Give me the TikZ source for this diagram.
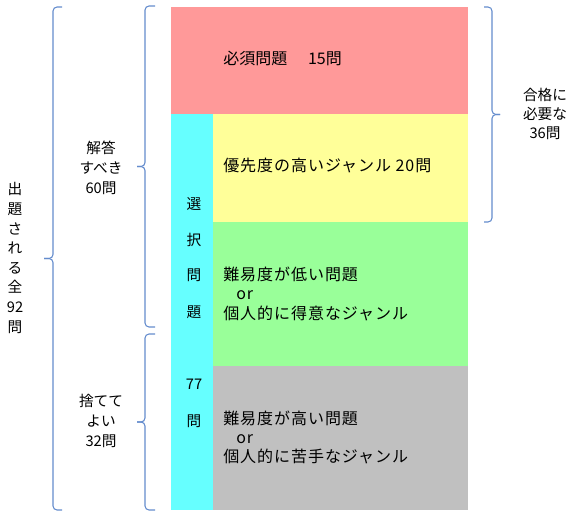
\documentclass[tikz,border=0pt]{standalone}
\usepackage{fontspec}
\setmainfont{Noto Sans CJK JP}
\newfontfamily\bodyfont[LetterSpace=6]{Noto Sans CJK JP}
\usetikzlibrary{calc}

\definecolor{hissucol}{RGB}{255,153,153}
\definecolor{yusencol}{RGB}{255,255,153}
\definecolor{teicol}{RGB}{153,255,153}
\definecolor{koucol}{RGB}{192,192,192}
\definecolor{sentakucol}{RGB}{102,255,255}
\definecolor{bracecol}{RGB}{100,140,205}

\tikzset{
  bracket/.style={draw=bracecol, line width=0.8pt, rounded corners=3pt},
  boxtext/.style={anchor=west, inner sep=0pt,
    font=\bodyfont\fontsize{12}{14}\selectfont,
    text height=0.8em, text depth=0.2em},
  sidetext/.style={align=center, inner sep=0pt, font=\fontsize{11}{15}\selectfont},
  coltext/.style={inner sep=0pt, font=\fontsize{11}{13}\selectfont,
    text height=0.8em, text depth=0.2em}
}

\begin{document}
\begin{tikzpicture}[x=0.75pt, y=-0.75pt]
  \useasboundingbox (0,0) rectangle (577,516);
  \begin{scope}
    \fill [hissucol] (171,7) rectangle (468,114);
    \fill [sentakucol] (171,114) rectangle (213,510);
    \fill [yusencol] (213,114) rectangle (468,222);
    \fill [teicol] (213,222) rectangle (468,366);
    \fill [koucol] (213,366) rectangle (468,510);

    \node [boxtext, font=\fontsize{12}{14}\selectfont] (hissu) at (223,61) {必須問題\hspace{1.3em}15問};
    \node [boxtext] (yusen) at (223,168) {優先度の高いジャンル 20問};

    \node [boxtext] (tei1) at (223,276) {難易度が低い問題};
    \node [boxtext] (teior) at (236,295) {or};
    \node [boxtext] (tei2) at (223,315) {個人的に得意なジャンル};

    \node [boxtext] (kou1) at (223,420) {難易度が高い問題};
    \node [boxtext] (kouor) at (236,439) {or};
    \node [boxtext] (kou2) at (223,458) {個人的に苦手なジャンル};

    \node [coltext] (s1) at (194,206) {選};
    \node [coltext] (s2) at (194,242) {択};
    \node [coltext] (s3) at (194,277) {問};
    \node [coltext] (s4) at (194,313) {題};
    \node [coltext] (s5) at (194,385) {77};
    \node [coltext] (s6) at (194,422) {問};
  \end{scope}

  \begin{scope}
    \node [sidetext, font=\fontsize{11}{14.7}\selectfont] (zen) at (15,258)
      {出\\題\\さ\\れ\\る\\全\\92\\問};
    \node [sidetext] (kaitou) at (101,168) {解答\\すべき\\60問};
    \node [sidetext] (suteru) at (101,421) {捨てて\\よい\\32問};
    \node [sidetext, font=\fontsize{11}{14.25}\selectfont] (goukaku) at (545,114)
      {合格に\\必要な\\36問};

    \coordinate (zenTop) at (62,7);
    \coordinate (zenBot) at (62,510);
    \coordinate (kaitouTop) at (155,6);
    \coordinate (kaitouBot) at (155,327);
    \coordinate (suteruTop) at (155,334);
    \coordinate (suteruBot) at (155,510);
    \coordinate (goukakuTop) at (484,7);
    \coordinate (goukakuBot) at (484,222);

    \draw [bracket] (zenTop) -- ++(-9,0) |- ($(zenTop)!.5!(zenBot)+(-18,0)$);
    \draw [bracket] (zenBot) -- ++(-9,0) |- ($(zenTop)!.5!(zenBot)+(-18,0)$);
    \draw [bracket] (kaitouTop) -- ++(-10,0) |- ($(kaitouTop)!.5!(kaitouBot)+(-18,0)$);
    \draw [bracket] (kaitouBot) -- ++(-10,0) |- ($(kaitouTop)!.5!(kaitouBot)+(-18,0)$);
    \draw [bracket] (suteruTop) -- ++(-10,0) |- ($(suteruTop)!.5!(suteruBot)+(-18,0)$);
    \draw [bracket] (suteruBot) -- ++(-10,0) |- ($(suteruTop)!.5!(suteruBot)+(-18,0)$);
    \draw [bracket] (goukakuTop) -- ++(8,0) |- ($(goukakuTop)!.5!(goukakuBot)+(16,0)$);
    \draw [bracket] (goukakuBot) -- ++(8,0) |- ($(goukakuTop)!.5!(goukakuBot)+(16,0)$);
  \end{scope}
\end{tikzpicture}
\end{document}
